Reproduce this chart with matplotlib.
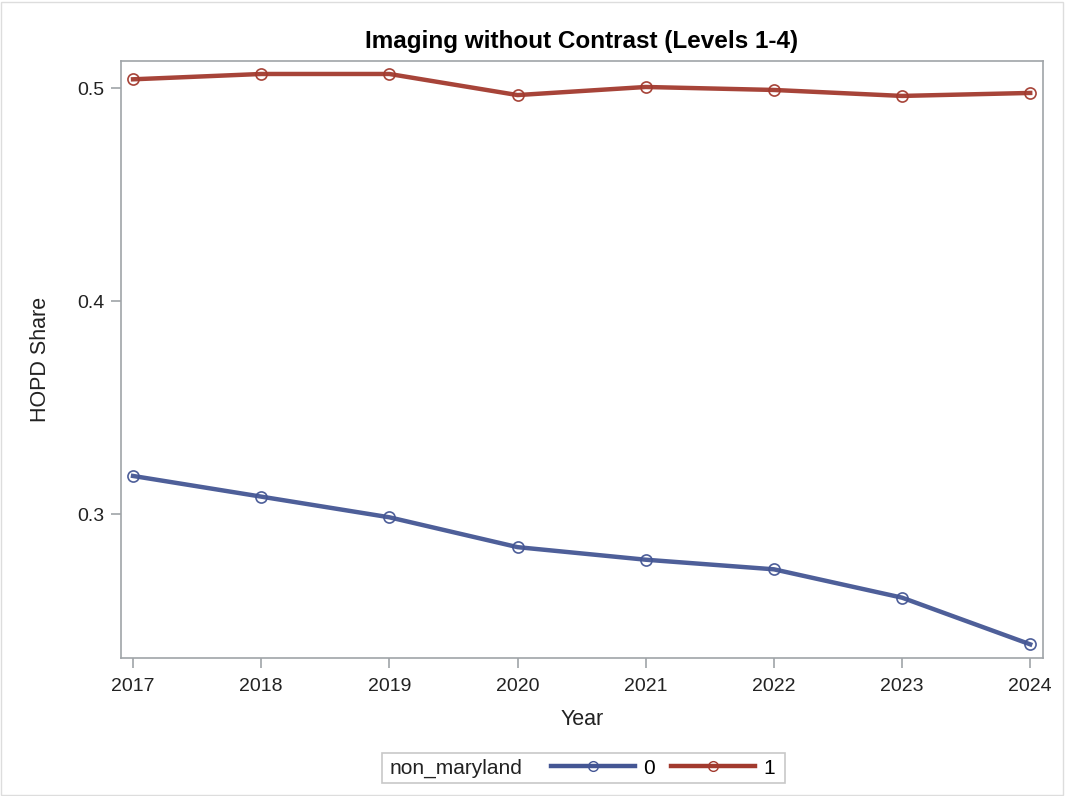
import matplotlib.pyplot as plt
from matplotlib.lines import Line2D
from matplotlib.patches import Rectangle

plt.rcParams['font.family'] = ['Liberation Sans', 'DejaVu Sans']

years = [2017, 2018, 2019, 2020, 2021, 2022, 2023, 2024]
share_0 = [0.3180, 0.3083, 0.2986, 0.2846, 0.2787, 0.2742, 0.2609, 0.2390]
share_1 = [0.5041, 0.5066, 0.5066, 0.4967, 0.5005, 0.4991, 0.4963, 0.4977]

blue = '#445694'
red = '#A23A2E'
edge = '#A0A4A8'
txt = '#222222'

fig = plt.figure(figsize=(10.68, 7.96), dpi=100)
ax = fig.add_axes([0.1133, 0.1734, 0.8633, 0.75])

for vals, c in [(share_0, blue), (share_1, red)]:
    ax.plot(years, vals, color=c, lw=3.2, marker='o', ms=8,
            mfc='none', mec=c, mew=1.2, alpha=0.95)

ax.set_xlim(2016.906, 2024.10)
ax.set_ylim(0.2326, 0.5127)
ax.set_xticks(years)
ax.set_yticks([0.3, 0.4, 0.5])
ax.set_yticklabels(['0.3', '0.4', '0.5'])
ax.tick_params(colors=edge, labelcolor=txt, labelsize=14, length=7, width=1.2, pad=5)
ax.tick_params(axis='x', pad=7.5)
for s in ax.spines.values():
    s.set_color(edge)
    s.set_linewidth(1.2)

ax.set_title('Imaging without Contrast (Levels 1-4)', fontsize=17.5, fontweight='bold', pad=9)
ax.set_xlabel('Year', fontsize=15.5, color=txt, labelpad=10)
ax.set_ylabel('HOPD Share', fontsize=15.5, color=txt, labelpad=19)

# legend box
fig.patches.append(Rectangle((382 / 1068, 1 - 783 / 796), 403 / 1068, 30 / 796,
                             transform=fig.transFigure, fill=False, ec='#C8C8C8', lw=1.2))
fig.text(390 / 1068, 1 - 768 / 796, 'non_maryland', fontsize=15, va='center', color=txt)
handles = [Line2D([], [], color=blue, lw=3.2, marker='o', ms=7, mfc='none', mec=blue),
           Line2D([], [], color=red, lw=3.2, marker='o', ms=7, mfc='none', mec=red)]
fig.legend(handles, ['0', '1'], ncol=2, frameon=False, fontsize=15,
           handlelength=4, columnspacing=0.8, handletextpad=0.4,
           loc='center', bbox_to_anchor=(663 / 1068, 1 - 768 / 796))

# outer frame
fig.patches.append(Rectangle((0.001, 0.001), 0.994, 0.997, transform=fig.transFigure,
                             fill=False, ec='#DDDDDD', lw=1))

fig.savefig('out.png', dpi=100)
